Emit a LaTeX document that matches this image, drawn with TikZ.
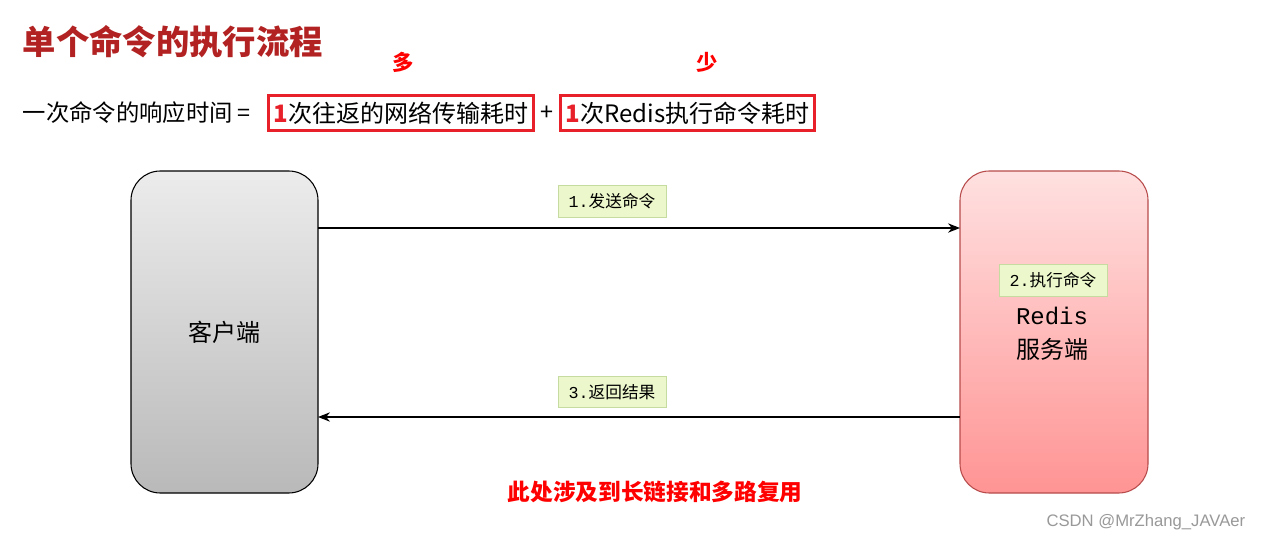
\documentclass[tikz,border=0pt]{standalone}
\usepackage{fontspec}
\setmainfont{Noto Sans CJK SC}
\newfontfamily\cjk{Noto Sans CJK SC}
\newfontfamily\mono{Liberation Mono}
\newfontfamily\sans{Liberation Sans}
\usetikzlibrary{arrows.meta}
\definecolor{titlered}{HTML}{B22222}
\definecolor{boxred}{HTML}{E8202A}
\definecolor{lblfill}{HTML}{ECF7CC}
\definecolor{lbldraw}{HTML}{C5DBA0}
\tikzset{
  hilite/.style={draw=boxred,line width=2.2pt,inner xsep=4pt,inner ysep=5pt,font=\fontsize{18}{20}\selectfont},
  lbl/.style={draw=lbldraw,fill=lblfill,font=\fontsize{12.5}{14}\selectfont,inner xsep=8pt,inner ysep=6pt},
  msg/.style={-{Stealth[length=9pt,width=7pt]},line width=0.9pt},
  glow/.style={text=red,font=\cjk\bfseries\fontsize{16}{18}\selectfont}
}
\begin{document}
\begin{tikzpicture}[x=0.75pt,y=-0.75pt]
\useasboundingbox (0,0) rectangle (1263,542);
\fill[white] (0,0) rectangle (1263,542);
\node[anchor=west,text=titlered,font=\bfseries\fontsize{25}{28}\selectfont] (title) at (18,42) {单个命令的执行流程};
\node[glow] (duo) at (403,62) {多};
\node[glow] (shao) at (707,62) {少};
\node[anchor=west,font=\fontsize{17.5}{19}\selectfont] (lhs) at (18,113) {一次命令的响应时间 =};
\node[hilite,anchor=west] (b1) at (267,113) {\textcolor{boxred}{\bfseries 1}次往返的网络传输耗时};
\node[font=\fontsize{17.5}{19}\selectfont] (plus) at (547,113) {+};
\node[hilite,anchor=west] (b2) at (559,113) {\textcolor{boxred}{\bfseries 1}次Redis执行命令耗时};
\shade[top color=gray!15,bottom color=gray!55,rounded corners=22pt] (131,171) rectangle (318,493);
\draw[black,line width=0.8pt,rounded corners=22pt] (131,171) rectangle (318,493);
\node[font=\fontsize{18}{20}\selectfont] (client) at (224,332) {客户端};
\shade[top color=red!12,bottom color=red!42,rounded corners=22pt] (960,171) rectangle (1148,493);
\draw[red!60!black!70,line width=0.8pt,rounded corners=22pt] (960,171) rectangle (1148,493);
\node[font=\mono\fontsize{18}{20}\selectfont] (redis) at (1052,316) {Redis};
\node[font=\fontsize{18}{20}\selectfont] (srv) at (1052,349) {服务端};
\coordinate (c1) at (318,228); \coordinate (s1) at (960,228);
\coordinate (c3) at (318,417); \coordinate (s3) at (960,417);
\draw[msg] (c1) -- (s1);
\draw[msg] (s3) -- (c3);
\node[lbl] (l1) at (612,201) {{\mono 1.}发送命令};
\node[lbl] (l2) at (1053,280) {{\mono 2.}执行命令};
\node[lbl] (l3) at (612,392) {{\mono 3.}返回结果};
\node[text=red,font=\bfseries\fontsize{17}{19}\selectfont] (note) at (655,492) {此处涉及到长链接和多路复用};
\node[anchor=east,text=gray!80,font=\sans\fontsize{12.5}{14}\selectfont] (wm) at (1250,522) {CSDN @MrZhang\_JAVAer};
\end{tikzpicture}
\end{document}
